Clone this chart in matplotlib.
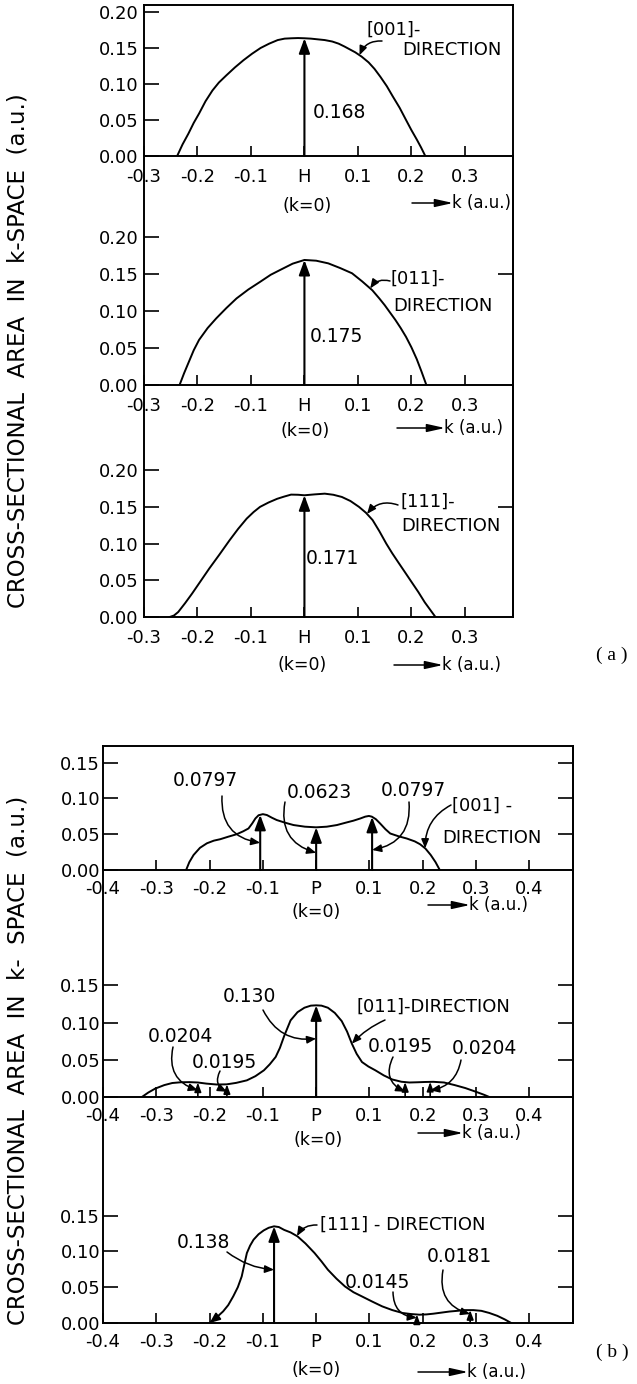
import numpy as np
import matplotlib.pyplot as plt
from matplotlib.patches import ArrowStyle, FancyArrowPatch

W, H = 637, 1384
plt.rcParams['font.family'] = 'DejaVu Sans'
plt.rcParams['axes.linewidth'] = 1.4

# (a) cross sections around H, k in a.u., area in a.u.
k_h001 = [-0.238, -0.228, -0.217, -0.207, -0.197, -0.185, -0.172, -0.160, -0.146, -0.130,
          -0.114, -0.098, -0.082, -0.066, -0.050, -0.037, -0.024, -0.012, 0.0, 0.012,
          0.025, 0.038, 0.052, 0.064, 0.075, 0.085, 0.095, 0.107, 0.120, 0.131,
          0.142, 0.154, 0.165, 0.178, 0.190, 0.200, 0.210, 0.218, 0.226]
a_h001 = [0.0, 0.016, 0.031, 0.046, 0.059, 0.076, 0.091, 0.102, 0.112, 0.123,
          0.133, 0.142, 0.150, 0.156, 0.161, 0.163, 0.1635, 0.1638, 0.1635, 0.163,
          0.162, 0.161, 0.159, 0.156, 0.152, 0.148, 0.144, 0.138, 0.130, 0.121,
          0.110, 0.097, 0.083, 0.067, 0.050, 0.036, 0.023, 0.012, 0.0]
k_h011 = [-0.2335, -0.225, -0.216, -0.207, -0.197, -0.181, -0.165, -0.146, -0.127, -0.105,
          -0.0825, -0.063, -0.044, -0.022, 0.0, 0.022, 0.0446, 0.067, 0.089, 0.108,
          0.127, 0.140, 0.150, 0.160, 0.170, 0.180, 0.190, 0.200, 0.210, 0.219, 0.228]
a_h011 = [0.0, 0.016, 0.0315, 0.047, 0.061, 0.077, 0.090, 0.104, 0.117, 0.129,
          0.1396, 0.149, 0.156, 0.164, 0.169, 0.168, 0.1644, 0.158, 0.151, 0.140,
          0.128, 0.117, 0.108, 0.098, 0.088, 0.077, 0.065, 0.051, 0.035, 0.018, 0.0]
k_h111 = [-0.252, -0.244, -0.236, -0.223, -0.210, -0.194, -0.178, -0.159, -0.140, -0.124,
          -0.108, -0.095, -0.083, -0.067, -0.051, -0.038, -0.025, -0.012, 0.0, 0.019,
          0.038, 0.054, 0.070, 0.086, 0.102, 0.115, 0.1275, 0.140, 0.153, 0.164,
          0.175, 0.188, 0.200, 0.213, 0.225, 0.235, 0.245]
a_h111 = [0.0, 0.002, 0.0068, 0.019, 0.032, 0.049, 0.066, 0.085, 0.1045, 0.120,
          0.134, 0.143, 0.150, 0.156, 0.161, 0.164, 0.1667, 0.1665, 0.1658, 0.167,
          0.168, 0.1665, 0.1635, 0.158, 0.150, 0.142, 0.132, 0.117, 0.100, 0.087,
          0.075, 0.061, 0.048, 0.034, 0.020, 0.010, 0.0]

# (b) cross sections around P
k_p001 = [-0.244, -0.238, -0.230, -0.218, -0.205, -0.192, -0.180, -0.165, -0.149, -0.137,
          -0.127, -0.120, -0.114, -0.108, -0.100, -0.0925, -0.083, -0.074, -0.058, -0.0425,
          -0.021, 0.0, 0.020, 0.039, 0.055, 0.070, 0.083, 0.092, 0.099, 0.1045,
          0.112, 0.120, 0.130, 0.139, 0.155, 0.170, 0.185, 0.195, 0.205, 0.215,
          0.224, 0.232]
a_p001 = [0.0, 0.011, 0.021, 0.031, 0.0373, 0.041, 0.043, 0.0465, 0.050, 0.054,
          0.058, 0.065, 0.072, 0.0765, 0.078, 0.0768, 0.073, 0.0698, 0.066, 0.0628,
          0.0605, 0.0596, 0.0605, 0.0628, 0.066, 0.0689, 0.072, 0.0745, 0.0755, 0.0745,
          0.071, 0.065, 0.057, 0.051, 0.047, 0.044, 0.040, 0.036, 0.030, 0.021,
          0.011, 0.0]
k_p011 = [-0.327, -0.315, -0.302, -0.285, -0.270, -0.254, -0.238, -0.222, -0.206, -0.187,
          -0.168, -0.150, -0.130, -0.114, -0.098, -0.087, -0.076, -0.068, -0.060, -0.048,
          -0.035, -0.022, -0.010, 0.0, 0.010, 0.022, 0.035, 0.048, 0.058, 0.067,
          0.076, 0.086, 0.098, 0.111, 0.127, 0.143, 0.160, 0.175, 0.190, 0.205,
          0.220, 0.240, 0.260, 0.280, 0.300, 0.315, 0.325]
a_p011 = [0.0, 0.006, 0.0113, 0.016, 0.0188, 0.0198, 0.020, 0.0195, 0.018, 0.0168,
          0.017, 0.019, 0.0224, 0.028, 0.0359, 0.044, 0.0538, 0.066, 0.082, 0.103,
          0.114, 0.120, 0.1228, 0.1232, 0.1228, 0.120, 0.113, 0.102, 0.088, 0.0717,
          0.058, 0.047, 0.041, 0.0359, 0.029, 0.0235, 0.0205, 0.0195, 0.0198, 0.0202,
          0.0204, 0.0195, 0.016, 0.012, 0.007, 0.003, 0.0]
k_p111 = [-0.200, -0.188, -0.1746, -0.165, -0.1556, -0.147, -0.1397, -0.135, -0.130, -0.124,
          -0.1175, -0.108, -0.0984, -0.089, -0.079, -0.070, -0.060, -0.048, -0.035, -0.020,
          -0.003, 0.010, 0.022, 0.038, 0.054, 0.070, 0.0857, 0.105, 0.124, 0.143,
          0.162, 0.178, 0.194, 0.207, 0.220, 0.235, 0.250, 0.265, 0.280, 0.295,
          0.310, 0.325, 0.340, 0.354, 0.366]
a_p111 = [0.0, 0.007, 0.0162, 0.025, 0.0372, 0.050, 0.065, 0.081, 0.0977, 0.108,
          0.1163, 0.124, 0.1293, 0.133, 0.135, 0.134, 0.130, 0.1265, 0.121, 0.111,
          0.0977, 0.086, 0.0744, 0.062, 0.0511, 0.043, 0.0372, 0.030, 0.0232, 0.018,
          0.014, 0.0125, 0.0116, 0.012, 0.013, 0.0145, 0.016, 0.017, 0.018, 0.018,
          0.017, 0.014, 0.010, 0.005, 0.0]

xt_a = [-0.3, -0.2, -0.1, 0.0, 0.1, 0.2, 0.3]
xl_a = ['-0.3', '-0.2', '-0.1', 'H', '0.1', '0.2', '0.3']
xt_b = [-0.4, -0.3, -0.2, -0.1, 0.0, 0.1, 0.2, 0.3, 0.4]
xl_b = ['-0.4', '-0.3', '-0.2', '-0.1', 'P', '0.1', '0.2', '0.3', '0.4']
yt_a = [0.0, 0.05, 0.10, 0.15, 0.20]
yt_b = [0.0, 0.05, 0.10, 0.15]

fig = plt.figure(figsize=(W / 100, H / 100), dpi=100)


def fx(x):
    return x / W


def fy(y):
    return 1 - y / H


def panel(box, xlim, ymax, xt, xl, yt, kk, aa, top=False, rt=(), xpad=8.5, ypad=4):
    left, t, right, b = box
    ax = fig.add_axes([left / W, 1 - b / H, (right - left) / W, (b - t) / H])
    ax.set_facecolor('none')
    ax.set_xlim(*xlim)
    ax.set_ylim(0, ymax)
    ax.spines['top'].set_visible(top)
    ax.set_xticks(xt, xl)
    ax.set_yticks(yt, ['%.2f' % v for v in yt])
    ax.tick_params(axis='x', direction='in', length=7, width=1.2, labelsize=13, pad=xpad)
    ax.tick_params(axis='y', direction='in', length=11, width=1.2, labelsize=13, pad=ypad)
    if rt:
        sec = ax.secondary_yaxis('right')
        sec.set_yticks(rt)
        sec.tick_params(direction='in', length=11, width=1.2, labelright=False)
    ax.plot(kk, aa, color='k', lw=1.4, solid_joinstyle='round')
    return ax


def varrow(ax, k, kk, aa, ms=15, lw=1.5):
    v = np.interp(k, kk, aa)
    ax.annotate('', xy=(k, v), xytext=(k, 0),
                arrowprops=dict(arrowstyle=ArrowStyle('-|>', head_length=0.6, head_width=0.22),
                                mutation_scale=ms, lw=lw, color='k', shrinkA=0, shrinkB=0))


def leader(ax, src, xy, rad, ms=9):
    ax.annotate('', xy=xy, xycoords='data', xytext=(fx(src[0]), fy(src[1])),
                textcoords='figure fraction',
                arrowprops=dict(arrowstyle=ArrowStyle('-|>', head_length=0.6, head_width=0.25),
                                connectionstyle='arc3,rad=%s' % rad,
                                mutation_scale=ms, lw=1.1, color='k', shrinkA=0, shrinkB=0))


def label(x, y, s, size=13, ha='left'):
    fig.text(fx(x), fy(y), s, ha=ha, va='center', fontsize=size)


def kaxis(x0, x1, y):
    fig.text(fx(x1 + 2), fy(y), 'k (a.u.)', ha='left', va='center', fontsize=12)
    fig.add_artist(FancyArrowPatch(
        (fx(x0), fy(y)), (fx(x1 + 3), fy(y)), transform=fig.transFigure,
        arrowstyle=ArrowStyle('-|>', head_length=0.9, head_width=0.2),
        mutation_scale=12, lw=1.1, color='k', shrinkA=0, shrinkB=0))


# ---------------- (a) ----------------
xa = (-0.3, 0.39)
ax1 = panel((144, 5, 513, 156), xa, 0.2097, xt_a, xl_a, yt_a, k_h001, a_h001, top=True)
varrow(ax1, 0.0, k_h001, a_h001)
label(313, 113, '0.168', 13.5)
label(366, 30, '[001]-', 13)
label(402, 50, 'DIRECTION', 13)
leader(ax1, (382, 41), (0.103, np.interp(0.103, k_h001, a_h001)), 0.35)
label(307, 206, '(k=0)', 12.5, 'center')
kaxis(412, 450, 203)

ax2 = panel((144, 156, 513, 385), xa, 0.3095, xt_a, xl_a, yt_a, k_h011, a_h011, rt=[0.15])
varrow(ax2, 0.0, k_h011, a_h011)
label(310, 336, '0.175', 13.5)
label(391, 279, '[011]-', 13)
label(393, 306, 'DIRECTION', 13)
leader(ax2, (390, 281), (0.123, np.interp(0.123, k_h011, a_h011)), 0.35)
label(305, 431, '(k=0)', 12.5, 'center')
kaxis(397, 442, 428)

ax3 = panel((144, 385, 513, 617), xa, 0.316, xt_a, xl_a, yt_a, k_h111, a_h111, rt=[0.15])
varrow(ax3, 0.0, k_h111, a_h111)
label(306, 559, '0.171', 13.5)
label(401, 502, '[111]-', 13)
label(401, 526, 'DIRECTION', 13)
leader(ax3, (398, 505), (0.117, np.interp(0.117, k_h111, a_h111)), 0.35)
label(302, 665, '(k=0)', 12.5, 'center')
kaxis(394, 440, 665)

fig.text(fx(18), fy(351), 'CROSS-SECTIONAL  AREA  IN  k-SPACE  (a.u.)', rotation=90,
         ha='center', va='center', fontsize=16.5)
fig.text(fx(612), fy(655), '( a )', ha='center', va='center', fontsize=14,
         family='Liberation Serif')

# ---------------- (b) ----------------
xb = (-0.4, 0.482)
bx1 = panel((103, 746, 573, 870), xb, 0.1732, xt_b, xl_b, yt_b, k_p001, a_p001, top=True,
            rt=yt_b[1:], xpad=7, ypad=2)
for kv in (-0.105, 0.0, 0.105):
    varrow(bx1, kv, k_p001, a_p001)
label(173, 781, '0.0797', 13.5)
label(287, 792, '0.0623', 13.5)
label(381, 790, '0.0797', 13.5)
label(452, 806, '[001] -', 13)
label(442, 838, 'DIRECTION', 13)
leader(bx1, (222, 796), (-0.105, 0.038), 0.45)
leader(bx1, (285, 802), (0.0, 0.024), 0.45)
leader(bx1, (409, 802), (0.105, 0.028), -0.45)
leader(bx1, (451, 805), (0.2045, np.interp(0.2045, k_p001, a_p001)), 0.3)
label(316, 912, '(k=0)', 12.5, 'center')
kaxis(428, 467, 905)

bx2 = panel((103, 870, 573, 1097), xb, 0.3051, xt_b, xl_b, yt_b, k_p011, a_p011,
            rt=yt_b[1:], xpad=7, ypad=2)
varrow(bx2, 0.0, k_p011, a_p011)
for kv in (-0.222, -0.1675, 0.167, 0.214):
    varrow(bx2, kv, k_p011, a_p011, ms=9, lw=1.2)
label(223, 997, '0.130', 13.5)
label(148, 1037, '0.0204', 13.5)
label(192, 1062, '0.0195', 13.5)
label(357, 1007, '[011]-DIRECTION', 13)
label(368, 1046, '0.0195', 13.5)
label(452, 1048, '0.0204', 13.5)
leader(bx2, (263, 1010), (0.0, 0.0785), 0.35)
leader(bx2, (173, 1047), (-0.222, 0.009), 0.45)
leader(bx2, (220, 1071), (-0.1675, 0.007), 0.5)
leader(bx2, (385, 1020), (0.067, np.interp(0.067, k_p011, a_p011)), 0.1)
leader(bx2, (393, 1057), (0.167, 0.007), 0.5)
leader(bx2, (461, 1060), (0.214, 0.009), -0.35)
label(318, 1140, '(k=0)', 12.5, 'center')
kaxis(418, 460, 1133)

bx3 = panel((103, 1097, 573, 1323), xb, 0.3156, xt_b, xl_b, yt_b, k_p111, a_p111,
            rt=yt_b[1:], xpad=7, ypad=2)
bx3.set_xticks([0.0], minor=True)
bx3.tick_params(axis='x', which='minor', direction='in', length=23, width=1.2)
varrow(bx3, -0.079, k_p111, a_p111)
for kv in (0.189, 0.289):
    varrow(bx3, kv, k_p111, a_p111, ms=9, lw=1.2)
bx3.annotate('', xy=(k_p111[0], a_p111[0]), xytext=(k_p111[1], a_p111[1]),
             arrowprops=dict(arrowstyle=ArrowStyle('-|>', head_length=0.6, head_width=0.25),
                             mutation_scale=10, lw=1.4, color='k', shrinkA=0, shrinkB=0))
label(177, 1242, '0.138', 13.5)
label(320, 1225, '[111] - DIRECTION', 13)
label(345, 1282, '0.0145', 13.5)
label(427, 1257, '0.0181', 13.5)
leader(bx3, (227, 1252), (-0.079, 0.0744), 0.15)
leader(bx3, (317, 1225), (-0.036, np.interp(-0.036, k_p111, a_p111)), 0.3)
leader(bx3, (393, 1292), (0.189, 0.0074), 0.45)
leader(bx3, (443, 1270), (0.289, 0.0125), 0.45)
label(316, 1370, '(k=0)', 12.5, 'center')
kaxis(418, 465, 1372)

fig.text(fx(18), fy(1060), 'CROSS-SECTIONAL  AREA  IN  k-  SPACE  (a.u.)', rotation=90,
         ha='center', va='center', fontsize=16.5)
fig.text(fx(612), fy(1352), '( b )', ha='center', va='center', fontsize=14,
         family='Liberation Serif')

fig.savefig('out.png', dpi=100)
